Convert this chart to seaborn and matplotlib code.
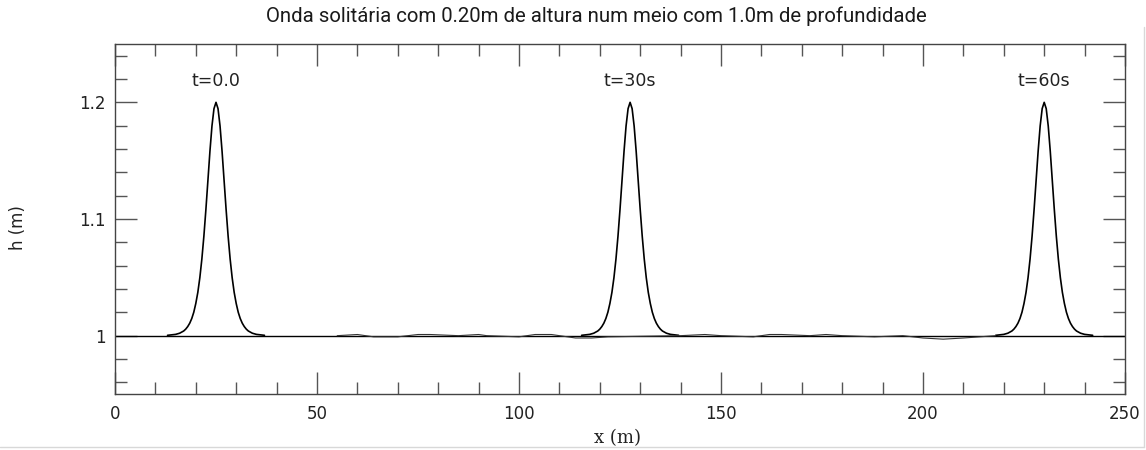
import matplotlib
matplotlib.use("Agg")
import matplotlib.pyplot as plt
from matplotlib.ticker import MultipleLocator, FixedFormatter, FixedLocator
from matplotlib.lines import Line2D
import seaborn as sns
import pandas as pd

# ---- data ----
title = "Onda solitária com 0.20m de altura num meio com 1.0m de profundidade"
time_labels = ["t=0.0", "t=30s", "t=60s"]
peak_x = [25.0, 127.5, 230.0]          # crest positions (m)
label_y = [1.2185, 1.2185, 1.2185]

# wave profile around the crest: offset (m) and height (m)
profile_offset = [-12, -10, -9, -8, -7.5, -7, -6.5, -6, -5.5, -5, -4.5, -4, -3.5, -3,
                  -2.5, -2, -1.5, -1, -0.5, 0, 0.5, 1, 1.5, 2, 2.5, 3, 3.5, 4, 4.5,
                  5, 5.5, 6, 6.5, 7, 7.5, 8, 9, 10, 12]
profile_h = [1.0003, 1.0011, 1.0021, 1.0040, 1.0056, 1.0078, 1.0107, 1.0147, 1.0201,
             1.0276, 1.0371, 1.0497, 1.0657, 1.0853, 1.1082, 1.1331, 1.1581, 1.1797,
             1.1946, 1.2000, 1.1946, 1.1797, 1.1581, 1.1331, 1.1082, 1.0853, 1.0657,
             1.0497, 1.0371, 1.0276, 1.0201, 1.0147, 1.0107, 1.0078, 1.0056, 1.0040,
             1.0021, 1.0011, 1.0003]

# small dispersive ripples trailing behind the wave
ripple_x = [55, 60, 64, 70, 75, 78, 85, 90, 92, 100, 104, 108, 114, 118, 122, 140,
            146, 150, 158, 162, 165, 172, 176, 180, 188, 195, 200, 205, 210, 214, 218]
ripple_h = [1.000, 1.001, 0.999, 0.999, 1.001, 1.001, 1.000, 1.001, 1.000, 0.999,
            1.001, 1.001, 0.998, 0.998, 0.999, 1.000, 1.001, 1.000, 0.999, 1.001,
            1.001, 1.000, 1.001, 1.000, 0.999, 1.000, 0.998, 0.997, 0.998, 0.999,
            1.000]

x_ticks = [0, 50, 100, 150, 200, 250]
y_ticks = [1.0, 1.1, 1.2]
y_tick_labels = ["1", "1.1", "1.2"]

# ---- build long table ----
rows = []
for lab, px in zip(time_labels, peak_x):
    for o, h in zip(profile_offset, profile_h):
        rows.append({"serie": lab, "x": px + o, "h": h})
for x, h in zip(ripple_x, ripple_h):
    rows.append({"serie": "ripple", "x": x, "h": h})
df = pd.DataFrame(rows)

sns.set_theme(style="white")
plt.rcParams["font.family"] = ["DejaVu Sans"]

fig = plt.figure(figsize=(11.46, 4.5), dpi=100)
ax = fig.add_axes([115 / 1146, 1 - 394 / 450, (1125 - 115) / 1146, (394 - 44) / 450])

ax.axhline(1.0, color="black", lw=1.0, zorder=1)
sns.lineplot(data=df[df.serie != "ripple"], x="x", y="h", units="serie",
             estimator=None, sort=False, color="black", lw=1.2, ax=ax)
sns.lineplot(data=df[df.serie == "ripple"], x="x", y="h", estimator=None,
             sort=False, color="#333333", lw=0.8, ax=ax)

for lab, px, ly in zip(time_labels, peak_x, label_y):
    ax.text(px, ly, lab, ha="center", va="center", fontsize=12.5,
            family="DejaVu Sans", color="#222222")

ax.set_xlim(0, 250)
ax.set_ylim(0.95, 1.25)
ax.xaxis.set_major_locator(FixedLocator(x_ticks))
ax.xaxis.set_minor_locator(MultipleLocator(10))
ax.yaxis.set_major_locator(FixedLocator(y_ticks))
ax.yaxis.set_major_formatter(FixedFormatter(y_tick_labels))
ax.yaxis.set_minor_locator(MultipleLocator(0.02))

ax.tick_params(which="both", direction="in", top=True, right=True, bottom=True,
               left=True, color="#555555", width=1.0, labelsize=12,
               labelcolor="#222222")
ax.tick_params(which="major", length=15.5)
ax.tick_params(which="minor", length=8.5)
ax.tick_params(axis="x", which="major", pad=8)
ax.tick_params(axis="y", which="major", pad=7)
for t in ax.get_xticklabels() + ax.get_yticklabels():
    t.set_family("DejaVu Sans")

for s in ax.spines.values():
    s.set_color("#444444")
    s.set_linewidth(1.0)
    s.set_visible(True)

ax.set_xlabel("")
ax.set_ylabel("")
fig.text(618 / 1146, 1 - 438 / 450, "x (m)", ha="center", va="center",
         fontsize=13, family="DejaVu Serif", color="#222222")
fig.text(18 / 1146, 1 - 228 / 450, "h (m)", ha="center", va="center",
         rotation=90, fontsize=12, family="DejaVu Sans", color="#222222")
fig.text(596 / 1146, 1 - 16 / 450, title, ha="center", va="center",
         fontsize=14.7, family="Roboto", color="#1a1a1a")

# light frame lines of the original figure
fig.add_artist(Line2D([1144 / 1146, 1144 / 1146], [1 - 27 / 450, 1 - 447 / 450],
                      color="#d8d8d8", lw=1.0, transform=fig.transFigure))
fig.add_artist(Line2D([0, 1144 / 1146], [1 - 447 / 450, 1 - 447 / 450],
                      color="#d8d8d8", lw=1.0, transform=fig.transFigure))

fig.savefig("out.png", dpi=100)
